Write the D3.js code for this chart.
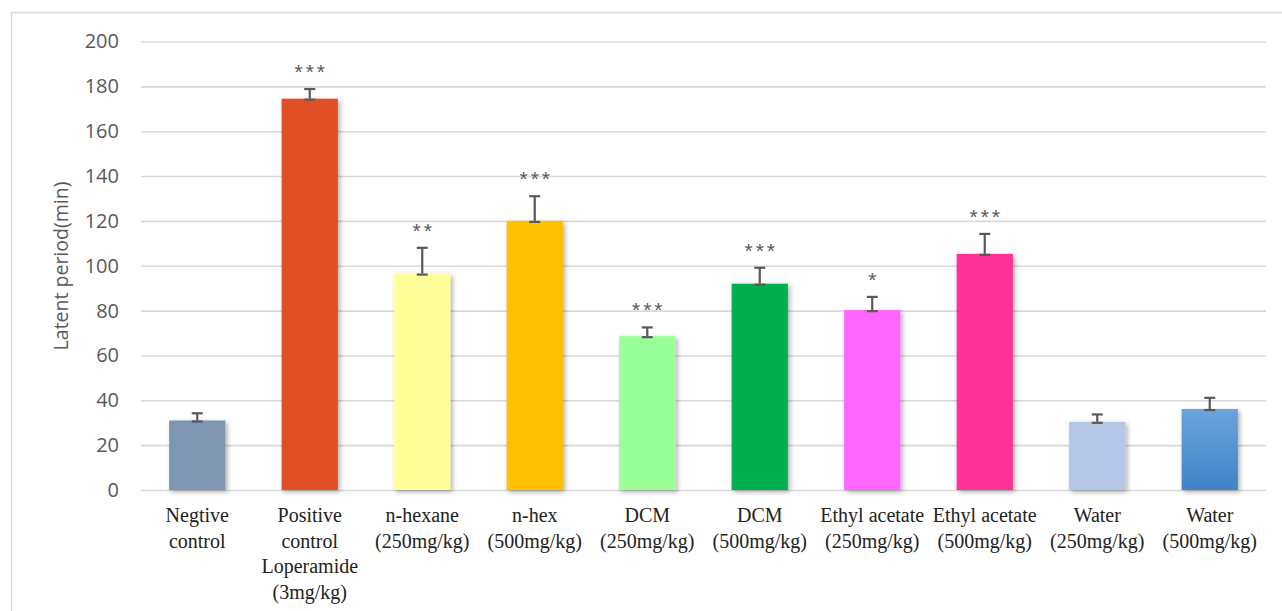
<!DOCTYPE html>
<html>
<head>
<meta charset="utf-8">
<script src="https://cdn.jsdelivr.net/npm/d3@7"></script>
<style>
  html, body { margin: 0; padding: 0; background: #fff; }
  svg { display: block; }
</style>
</head>
<body>
<svg id="chart" width="1282" height="611"></svg>
<script>
// Latent period of diarrhoea onset per treatment group (mean ± SEM)
const groups = [
  ["Negtive", "control"],
  ["Positive", "control", "Loperamide", "(3mg/kg)"],
  ["n-hexane", "(250mg/kg)"],
  ["n-hex", "(500mg/kg)"],
  ["DCM", "(250mg/kg)"],
  ["DCM", "(500mg/kg)"],
  ["Ethyl acetate", "(250mg/kg)"],
  ["Ethyl acetate", "(500mg/kg)"],
  ["Water", "(250mg/kg)"],
  ["Water", "(500mg/kg)"]
];
const means  = [31, 174.5, 96.5, 120, 68.6, 92, 80.2, 105.3, 30.4, 36.1];
const errors = [3.2, 4.3, 11.5, 11, 3.9, 7.1, 5.9, 8.9, 3.3, 5];
const stars  = ["", "***", "**", "***", "***", "***", "*", "***", "", ""];
const colors = ["#7f96b2", "#e05026", "#ffff99", "#ffc000", "#99ff99",
                "#00b050", "#ff66ff", "#ff3399", "#b4c7e7", "url(#waterGrad)"];
const yTicks = [0, 20, 40, 60, 80, 100, 120, 140, 160, 180, 200];

const svg = d3.select("#chart");

// outer chart frame
svg.append("rect")
  .attr("x", 11.5).attr("y", 12.5)
  .attr("width", 1290).attr("height", 620)
  .attr("fill", "none").attr("stroke", "#d9d9d9").attr("stroke-width", 1.5);

const defs = svg.append("defs");
const grad = defs.append("linearGradient").attr("id", "waterGrad")
  .attr("x1", 0).attr("y1", 0).attr("x2", 0).attr("y2", 1);
grad.append("stop").attr("offset", "0%").attr("stop-color", "#6aa3dd");
grad.append("stop").attr("offset", "100%").attr("stop-color", "#3f84c6");

const shadow = defs.append("filter").attr("id", "barShadow")
  .attr("x", "-20%").attr("y", "-20%").attr("width", "150%").attr("height", "150%");
shadow.append("feDropShadow")
  .attr("dx", 2).attr("dy", 2).attr("stdDeviation", 2.8)
  .attr("flood-color", "#000").attr("flood-opacity", 0.32);

const x = d3.scaleBand()
  .domain(d3.range(groups.length))
  .range([141, 1266])
  .paddingInner(0.5)
  .paddingOuter(0.25);

const y = d3.scaleLinear().domain([0, 200]).range([490, 41.5]);

// horizontal gridlines
const yAxis = d3.axisLeft(y)
  .tickValues(yTicks)
  .tickSize(-(1266 - 141))
  .tickPadding(22);

const gY = svg.append("g")
  .attr("transform", "translate(141,0)")
  .call(yAxis);
gY.select(".domain").remove();
gY.selectAll(".tick line")
  .attr("stroke", "#d9d9d9").attr("stroke-width", 1.6);
gY.selectAll(".tick text")
  .attr("fill", "#595959")
  .attr("font-family", "'Open Sans', 'Noto Sans', sans-serif")
  .attr("font-size", 20);

// y axis title
svg.append("text")
  .attr("transform", "translate(60,266) rotate(-90)")
  .attr("text-anchor", "middle")
  .attr("dominant-baseline", "central")
  .attr("fill", "#595959")
  .attr("font-family", "'Open Sans', 'Noto Sans', sans-serif")
  .attr("font-size", 19.5)
  .text("Latent period(min)");

// bars
svg.append("g").selectAll("rect")
  .data(means)
  .join("rect")
  .attr("x", (d, i) => x(i))
  .attr("y", d => y(d))
  .attr("width", x.bandwidth())
  .attr("height", d => y(0) - y(d))
  .attr("fill", (d, i) => colors[i])
  .attr("filter", "url(#barShadow)");

// error bars (upper whisker with caps)
const eb = svg.append("g")
  .attr("stroke", "#595959").attr("stroke-width", 2.2).attr("fill", "none");
const cap = 5.5;
means.forEach((m, i) => {
  const cx = x(i) + x.bandwidth() / 2;
  const top = y(m + errors[i]);
  const base = y(m);
  eb.append("line").attr("x1", cx).attr("x2", cx).attr("y1", base).attr("y2", top);
  eb.append("line").attr("x1", cx - cap).attr("x2", cx + cap).attr("y1", top).attr("y2", top);
  eb.append("line").attr("x1", cx - cap).attr("x2", cx + cap).attr("y1", base + 1).attr("y2", base + 1);
});

// significance markers
svg.append("g").selectAll("text")
  .data(stars)
  .join("text")
  .attr("x", (d, i) => x(i) + x.bandwidth() / 2 + 1.5)
  .attr("y", (d, i) => y(means[i] + errors[i]) - 10)
  .attr("text-anchor", "middle")
  .attr("fill", "#595959")
  .attr("font-family", "'Liberation Sans', Arial, sans-serif")
  .attr("font-size", 21)
  .attr("letter-spacing", 3)
  .text(d => d);

// category labels
const lab = svg.append("g")
  .attr("font-family", "'Liberation Serif', 'Times New Roman', serif")
  .attr("font-size", 20)
  .attr("fill", "#222")
  .attr("text-anchor", "middle");
groups.forEach((lines, i) => {
  const t = lab.append("text")
    .attr("x", x(i) + x.bandwidth() / 2)
    .attr("y", 522);
  lines.forEach((ln, k) => {
    t.append("tspan")
      .attr("x", x(i) + x.bandwidth() / 2)
      .attr("dy", k === 0 ? 0 : 25.5)
      .text(ln);
  });
});
</script>
</body>
</html>
